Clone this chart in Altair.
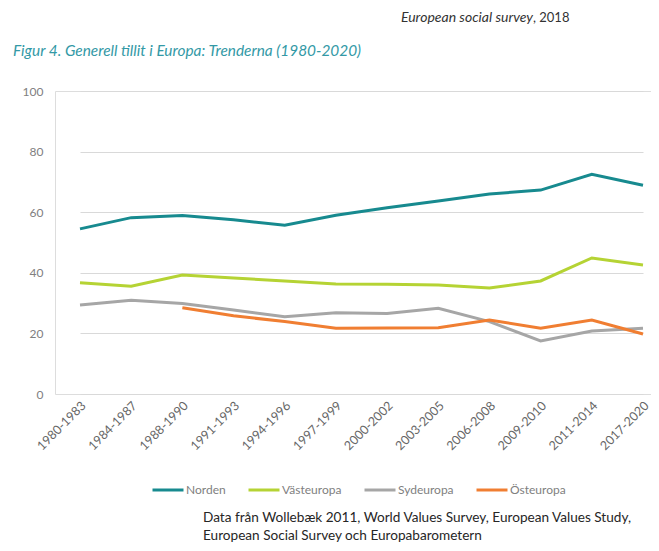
import altair as alt
import pandas as pd

periods = ["1980-1983", "1984-1987", "1988-1990", "1991-1993", "1994-1996", "1997-1999",
           "2000-2002", "2003-2005", "2006-2008", "2009-2010", "2011-2014", "2017-2020"]
norden = [54.5, 58.2, 58.9, 57.5, 55.7, 59.0, 61.5, 63.7, 66.0, 67.3, 72.5, 68.9]
vasteuropa = [36.7, 35.6, 39.3, 38.3, 37.3, 36.3, 36.2, 36.0, 35.0, 37.3, 44.9, 42.6]
sydeuropa = [29.4, 30.9, 29.9, 27.7, 25.5, 26.8, 26.6, 28.3, 23.9, 17.5, 20.8, 21.7]
osteuropa = [None, None, 28.5, 25.8, 23.9, 21.7, 21.8, 21.9, 24.4, 21.7, 24.4, 19.8]

series_names = ["Norden", "Västeuropa", "Sydeuropa", "Östeuropa"]
series_colors = ["#178A8F", "#B5D334", "#A6A6A6", "#F07E32"]
y_ticks = [0, 20, 40, 60, 80, 100]

top_note_italic = "European social survey"
top_note_plain = ", 2018"
fig_title = "Figur 4. Generell tillit i Europa: Trenderna (1980-2020)"
source_lines = ["Data från Wollebæk 2011, World Values Survey, European Values Study,",
                "European Social Survey och Europabarometern"]

rows = []
for name, vals in zip(series_names, [norden, vasteuropa, sydeuropa, osteuropa]):
    for p, v in zip(periods, vals):
        if v is not None:
            rows.append({"period": p, "value": v, "region": name})
df = pd.DataFrame(rows)

W, H = 596, 303
FONT = "Lato"

lines = alt.Chart(df).mark_line(strokeWidth=3).encode(
    x=alt.X("period:O", sort=periods, title=None,
            scale=alt.Scale(range=[25, 588], padding=0),
            axis=alt.Axis(labelAngle=-45, labelFontSize=12.5, labelColor="#666666",
                          labelFont=FONT, ticks=False, domain=False, grid=False,
                          labelPadding=5, labelOffset=-1)),
    y=alt.Y("value:Q", title=None, scale=alt.Scale(domain=[0, 100], nice=False),
            axis=alt.Axis(values=y_ticks, labelFontSize=12, labelColor="#808080",
                          labelFont=FONT, ticks=False, domain=False, gridColor="#D9D9D9",
                          gridWidth=1, labelPadding=12)),
    color=alt.Color("region:N", sort=series_names,
                    scale=alt.Scale(domain=series_names, range=series_colors),
                    legend=alt.Legend(orient="none", legendX=96, legendY=382,
                                      direction="horizontal", title=None,
                                      symbolType="stroke", symbolSize=961,
                                      symbolStrokeWidth=3, labelFontSize=12,
                                      labelColor="#808080", labelFont=FONT,
                                      labelOffset=1, columnPadding=16)),
    order=alt.Order("region:N"),
)

def txt(text, x, y, **kw):
    return alt.Chart(pd.DataFrame({"t": [text]})).mark_text(**kw).encode(
        text="t:N", x=alt.value(x), y=alt.value(y))

note1 = txt(top_note_italic, 478, -73, align="right", baseline="middle", font=FONT,
            fontSize=14, fontStyle="italic", color="#333333")
note2 = txt(top_note_plain, 478, -73, align="left", baseline="middle", font=FONT,
            fontSize=13, color="#333333")
title = txt(fig_title, -42, -40, align="left", baseline="middle", font=FONT,
            fontSize=15.4, fontStyle="italic", color="#3399A6")
src1 = txt(source_lines[0], 148, 427, align="left", baseline="middle", font=FONT,
           fontSize=13.6, color="#262626")
src2 = txt(source_lines[1], 148, 445, align="left", baseline="middle", font=FONT,
           fontSize=13.6, color="#262626")

chart = alt.layer(lines, note1, note2, title, src1, src2).properties(
    width=W, height=H,
    autosize=alt.AutoSizeParams(type="none"),
    padding={"left": 47, "top": 83, "right": 0, "bottom": 149},
).configure_view(stroke=None).configure(background="white")

chart.save("out.html", embed_options={"renderer": "svg", "actions": False})
